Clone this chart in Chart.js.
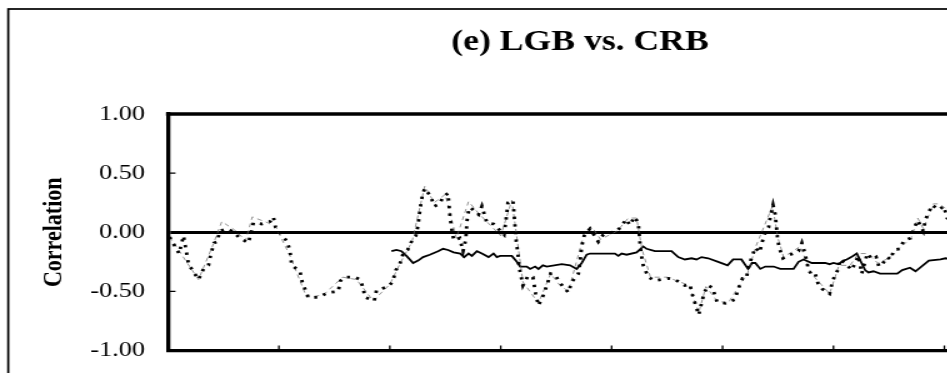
<!DOCTYPE html>
<html>
<head>
<meta charset="utf-8">
<script src="https://cdn.jsdelivr.net/npm/chart.js@4.4.0/dist/chart.umd.min.js"></script>
<style>
    html, body { margin: 0; padding: 0; background: #fff; overflow: hidden; }
    /* the original picture is stretched sideways, so draw narrower and stretch */
    #wrap { width: 928px; height: 373px; transform: scaleX(1.25); transform-origin: 0 0; }
</style>
</head>
<body>
<div id="wrap"><canvas id="corrChart" width="928" height="373"></canvas></div>
<script>
// --- data (x = period index, 20 per tick interval) ---
const yTicks = [-1, -0.5, 0, 0.5, 1];

const dotX = [0.3,2.0,2.8,3.7,5.5,6.4,7.3,7.7,8.3,8.9,9.3,10.6,11.5,13.0,14.5,15.0,15.4,16.9,18.4,19.0,19.4,20.5,21.5,22.0,22.3,23.8,24.2,25.3,27.1,28.9,30.7,31.1,31.9,33.7,34.6,35.2,35.5,37.2,37.6,39.7,40.5,41.1,41.8,42.4,43.2,44.1,44.7,45.1,45.3,45.6,45.9,46.3,47.4,48.0,49.0,49.6,50.5,50.8,51.0,51.3,51.6,52.6,53.2,53.7,53.9,54.2,54.5,56.0,56.6,57.5,58.7,60.6,61.1,61.3,62.2,62.5,62.8,63.1,63.3,64.0,64.9,65.8,66.3,66.8,67.7,68.3,69.0,69.8,70.7,72.2,72.8,74.0,74.3,74.6,75.1,76.1,77.6,78.5,80.9,81.8,82.6,83.3,84.1,84.8,85.1,85.3,85.7,86.6,87.8,90.2,91.4,93.2,94.1,94.5,95.7,96.1,96.7,97.4,98.2,99.0,100.5,102.2,102.9,103.6,104.3,104.6,105.2,105.9,106.7,107.1,107.7,108.3,108.6,109.1,109.5,109.7,109.9,110.2,110.9,111.6,112.8,113.7,114.3,114.8,115.1,115.5,116.1,116.7,117.2,118.0,119.3,119.7,120.2,120.9,121.2,122.3,123.3,124.5,125.1,126.1,127.0,127.7,128.2,128.8,129.7,130.3,130.9,132.0,132.7,133.9,134.5,135.2,136.2,136.6,137.2,137.8,139.0,139.9,140.5,141.5];
const dotY = [-0.04,-0.18,-0.03,-0.27,-0.40,-0.31,-0.28,-0.19,-0.09,-0.08,0.01,0.03,0.01,-0.05,-0.09,0.00,0.08,0.07,0.09,0.13,0.04,-0.02,-0.08,-0.16,-0.28,-0.33,-0.42,-0.55,-0.55,-0.51,-0.50,-0.41,-0.38,-0.38,-0.40,-0.47,-0.55,-0.58,-0.49,-0.46,-0.42,-0.32,-0.27,-0.18,-0.15,-0.06,-0.03,0.06,0.14,0.24,0.32,0.37,0.30,0.22,0.24,0.30,0.33,0.16,0.08,-0.02,-0.07,-0.05,-0.16,-0.06,0.09,0.18,0.21,0.15,0.22,0.08,0.07,-0.02,0.16,0.25,0.27,0.10,-0.08,-0.18,-0.29,-0.45,-0.37,-0.38,-0.52,-0.62,-0.53,-0.45,-0.35,-0.36,-0.43,-0.51,-0.42,-0.35,-0.26,-0.12,-0.02,0.03,-0.08,-0.02,0.01,0.05,0.11,0.06,0.13,0.08,-0.09,-0.18,-0.28,-0.38,-0.41,-0.39,-0.40,-0.45,-0.44,-0.52,-0.70,-0.62,-0.51,-0.45,-0.47,-0.59,-0.60,-0.57,-0.47,-0.39,-0.39,-0.31,-0.22,-0.13,-0.17,-0.09,0.00,0.04,0.13,0.23,0.15,0.05,-0.04,-0.13,-0.22,-0.20,-0.18,-0.16,-0.09,-0.17,-0.23,-0.32,-0.36,-0.35,-0.43,-0.48,-0.52,-0.44,-0.37,-0.31,-0.23,-0.27,-0.32,-0.20,-0.35,-0.18,-0.23,-0.21,-0.29,-0.27,-0.21,-0.23,-0.15,-0.14,-0.07,-0.05,0.03,0.10,0.01,0.11,0.17,0.23,0.19,0.22,0.12,0.10];

const dashX = [0.3,5.5,8,9.7,12,14,15.2,18,19.5,22,25,28,31.5,34,37,40,42,44,46.3,48,50,52,54.2,56,60,62,64,66.8,69,70.7,72.2,75,76.5,78,81,83,84.5,85.5,87,90,94,95.7,97,99,101,103,104.5,106,109,110,111,114,116,119.3,121,123,124.5,126,128,130,132,134,135.2,136.2,138,139,140,141.5];
const dashY = [-0.04,-0.40,-0.12,0.09,0.02,-0.07,0.13,0.08,0.04,-0.20,-0.55,-0.53,-0.38,-0.40,-0.58,-0.44,-0.25,-0.08,0.39,0.25,0.32,-0.05,0.26,0.16,-0.03,0.27,-0.42,-0.60,-0.35,-0.45,-0.50,-0.02,0.04,-0.06,0.01,0.12,0.12,-0.15,-0.38,-0.38,-0.45,-0.68,-0.46,-0.58,-0.60,-0.45,-0.35,-0.12,0.22,-0.05,-0.21,-0.12,-0.35,-0.52,-0.28,-0.28,-0.18,-0.18,-0.26,-0.22,-0.13,-0.05,0.12,0.03,0.24,0.24,0.21,0.12];

const solidX = [40.3,41.2,42.1,43.0,44.2,45.1,46.0,47.2,48.7,49.6,50.5,51.5,52.7,53.4,54.2,54.8,55.7,56.6,57.8,58.7,59.3,59.9,62.0,62.9,63.5,64.7,65.3,66.2,66.8,67.6,68.3,71.0,72.5,73.7,74.6,75.5,76.1,80.6,81.2,81.8,82.7,84.5,85.7,86.3,87.8,90.8,92.0,93.2,94.4,95.3,96.2,97.4,99.2,100.9,101.9,103.4,104.6,105.3,105.9,106.8,107.7,109.2,110.4,112.8,113.7,114.6,116.1,118.5,119.3,120.0,120.9,121.8,122.4,123.2,124.2,125.7,126.3,127.2,128.4,131.5,132.4,133.8,134.8,137.2,139.3,140.2,141.5];
const solidY = [-0.16,-0.15,-0.16,-0.20,-0.26,-0.24,-0.21,-0.19,-0.16,-0.14,-0.15,-0.17,-0.18,-0.21,-0.18,-0.20,-0.16,-0.18,-0.21,-0.18,-0.21,-0.20,-0.20,-0.25,-0.29,-0.29,-0.31,-0.29,-0.31,-0.28,-0.29,-0.27,-0.28,-0.31,-0.26,-0.19,-0.18,-0.18,-0.20,-0.18,-0.19,-0.17,-0.12,-0.14,-0.16,-0.16,-0.21,-0.23,-0.22,-0.23,-0.21,-0.22,-0.25,-0.28,-0.23,-0.23,-0.31,-0.26,-0.26,-0.31,-0.29,-0.29,-0.31,-0.31,-0.25,-0.23,-0.26,-0.26,-0.27,-0.26,-0.27,-0.24,-0.23,-0.21,-0.18,-0.32,-0.34,-0.33,-0.35,-0.35,-0.32,-0.30,-0.33,-0.24,-0.23,-0.22,-0.23];

const toPoints = (xs, ys) => xs.map((x, i) => ({ x: x, y: ys[i] }));

const SERIF = "'Liberation Serif', 'Times New Roman', serif";

// frame, title, top border and inward tick marks
const framePlugin = {
    id: 'frame',
    beforeDraw(chart) {
        const ctx = chart.ctx;
        ctx.save();
        ctx.fillStyle = '#fff';
        ctx.fillRect(0, 0, chart.width, chart.height);
        ctx.strokeStyle = '#000';
        ctx.lineWidth = 1.7;
        ctx.strokeRect(6.6, 9, 918, 420);
        ctx.fillStyle = '#000';
        ctx.font = 'bold 28.5px ' + SERIF;
        ctx.textAlign = 'center';
        ctx.textBaseline = 'alphabetic';
        ctx.fillText('(e) LGB vs. CRB', 464, 50);
        ctx.restore();
    },
    afterDatasetsDraw(chart) {
        const ctx = chart.ctx;
        const area = chart.chartArea;
        const xs = chart.scales.x, ys = chart.scales.y;
        ctx.save();
        ctx.strokeStyle = '#000';
        ctx.lineWidth = 3.3;
        ctx.beginPath();
        ctx.moveTo(area.left - 1.6, area.top);
        ctx.lineTo(area.right, area.top);
        ctx.stroke();
        ctx.lineWidth = 1.3;
        ctx.beginPath();
        [0.5, -0.5].forEach(v => {
            const y = ys.getPixelForValue(v);
            ctx.moveTo(area.left, y);
            ctx.lineTo(area.left + 6, y);
        });
        xs.ticks.forEach(t => {
            if (t.value === 0) return;
            const x = xs.getPixelForValue(t.value);
            ctx.moveTo(x, area.bottom);
            ctx.lineTo(x, area.bottom - 5);
        });
        ctx.stroke();
        ctx.restore();
    }
};

new Chart(document.getElementById('corrChart'), {
    type: 'line',
    data: {
        datasets: [
            {
                label: 'dotted',
                data: toPoints(dotX, dotY),
                borderColor: '#000',
                borderWidth: 2.8,
                borderDash: [2.4, 5.2],
                borderCapStyle: 'butt',
                pointRadius: 0,
                tension: 0
            },
            {
                label: 'dashed',
                data: toPoints(dashX, dashY),
                borderColor: '#666',
                borderWidth: 0.7,
                borderDash: [4, 3.5],
                pointRadius: 0,
                tension: 0
            },
            {
                label: 'solid',
                data: toPoints(solidX, solidY),
                borderColor: '#000',
                borderWidth: 1.8,
                pointRadius: 0,
                tension: 0
            }
        ]
    },
    options: {
        responsive: false,
        animation: false,
        layout: { padding: { top: 114, left: 0, right: 137, bottom: 22.5 } },
        plugins: {
            legend: { display: false },
            tooltip: { enabled: false },
            title: { display: false }
        },
        scales: {
            x: {
                type: 'linear',
                min: 0,
                max: 148,
                ticks: { display: false, stepSize: 20 },
                grid: { display: false, drawTicks: false },
                border: { display: true, color: '#000', width: 3.3 },
                afterFit(scale) { scale.height = 0; }
            },
            y: {
                min: -1,
                max: 1,
                afterBuildTicks(scale) { scale.ticks = yTicks.map(v => ({ value: v })); },
                ticks: {
                    padding: 18.4,
                    color: '#000',
                    font: { family: SERIF, size: 21 },
                    callback: v => v.toFixed(2)
                },
                grid: {
                    drawTicks: false,
                    color: ctx => (ctx.tick && ctx.tick.value === 0) ? '#000' : 'rgba(0,0,0,0)',
                    lineWidth: ctx => (ctx.tick && ctx.tick.value === 0) ? 3 : 0
                },
                border: { display: true, color: '#000', width: 3.3 },
                title: {
                    display: true,
                    text: 'Correlation',
                    color: '#000',
                    font: { family: SERIF, size: 22, weight: 'bold' },
                    padding: { top: 30, bottom: 0 }
                },
                afterFit(scale) {
                    scale.width = 134.4;
                    // the label padding would otherwise shrink the plot area
                    scale.paddingTop = 0;
                    scale.paddingBottom = 0;
                }
            }
        }
    },
    plugins: [framePlugin]
});
</script>
</body>
</html>
